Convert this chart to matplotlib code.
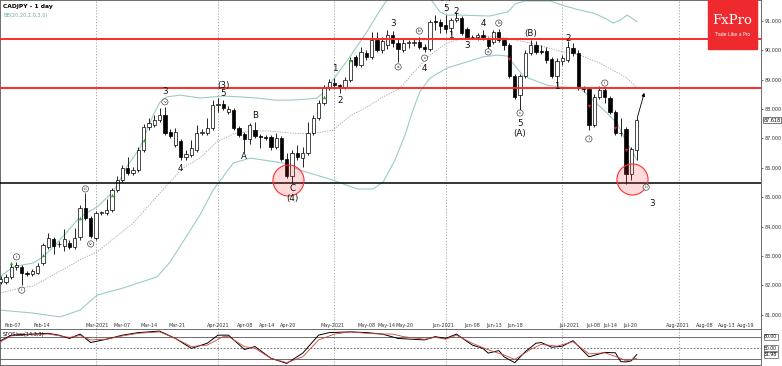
import numpy as np
import matplotlib
matplotlib.use('Agg')
import matplotlib.pyplot as plt

# ---- data (bar index, prices) ----
first_bar = 2
opens = [82.12, 82.12, 82.29, 82.63, 82.63, 82.42, 82.39, 82.42, 82.76, 83.31,
         83.58, 83.42, 83.34, 83.44, 83.31, 83.65, 84.63, 84.29, 83.61, 84.46,
         84.46, 84.56, 85.24, 85.58, 85.99, 85.82, 85.92, 86.60, 87.39, 87.45,
         87.62, 87.79, 87.22, 86.77, 86.91, 86.37, 86.43, 86.60, 87.18, 87.18,
         87.35, 88.13, 88.17, 87.90, 87.96, 87.35, 87.15, 86.98, 87.28, 87.08,
         87.05, 87.05, 86.71, 87.01, 86.30, 85.72, 86.50, 86.33, 86.50, 87.18,
         87.69, 88.20, 88.71, 88.88, 88.81, 88.75, 88.98, 89.77, 89.49, 89.90,
         89.77, 90.34, 90.00, 90.17, 90.51, 90.24, 90.00, 90.24, 90.24, 90.28,
         90.11, 90.04, 90.99, 90.96, 90.85, 90.75, 91.02, 91.09, 90.72, 90.46,
         90.45, 90.51, 90.38, 90.28, 90.62, 90.34, 90.17, 89.12, 88.47, 89.12,
         89.90, 90.17, 89.96, 89.97, 89.70, 89.12, 89.63, 89.66, 90.07, 89.90,
         88.71, 88.68, 87.45, 88.41, 88.64, 88.37, 87.90, 87.18, 87.32, 85.79,
         86.60]
highs = [82.32, 82.39, 82.73, 82.80, 82.69, 82.49, 82.56, 82.76, 83.44, 83.78,
         83.65, 83.51, 83.92, 83.54, 83.95, 84.73, 85.14, 84.36, 84.53, 84.53,
         84.94, 85.31, 85.72, 86.09, 86.37, 86.03, 86.71, 87.49, 87.69, 87.79,
         88.03, 88.07, 87.32, 87.35, 86.98, 86.60, 86.94, 87.45, 87.32, 87.69,
         88.30, 88.37, 88.30, 88.10, 88.03, 87.42, 87.22, 87.52, 87.56, 87.15,
         87.11, 87.11, 87.18, 87.08, 86.50, 86.60, 86.77, 86.71, 87.56, 87.79,
         88.30, 88.81, 89.02, 89.05, 88.85, 89.09, 89.77, 89.83, 90.11, 90.00,
         90.62, 90.62, 90.45, 90.68, 90.65, 90.41, 90.41, 90.34, 90.41, 90.45,
         90.21, 91.02, 91.19, 91.06, 91.21, 91.09, 91.30, 91.16, 90.79, 90.51,
         90.58, 90.68, 90.45, 90.68, 90.72, 90.41, 90.24, 89.19, 89.19, 90.00,
         90.34, 90.31, 90.17, 90.11, 89.77, 89.73, 89.83, 90.31, 90.24, 90.00,
         88.78, 88.75, 88.51, 88.78, 88.75, 88.44, 87.96, 87.69, 87.39, 86.71,
         87.73]
lows = [82.05, 82.05, 82.22, 82.52, 82.01, 82.32, 82.32, 82.39, 82.69, 83.24,
        83.07, 83.31, 83.17, 83.24, 83.24, 83.54, 84.22, 83.61, 83.54, 84.39,
        84.39, 84.50, 85.18, 85.52, 85.75, 85.75, 85.86, 86.54, 87.28, 87.39,
        87.56, 87.11, 87.01, 86.71, 86.26, 86.26, 86.37, 86.54, 87.11, 87.11,
        87.28, 87.90, 87.96, 87.83, 87.28, 87.05, 86.54, 86.81, 87.01, 86.67,
        86.94, 86.60, 86.64, 86.23, 85.65, 85.48, 86.26, 86.02, 86.43, 87.11,
        87.62, 88.13, 88.64, 88.75, 88.54, 88.68, 88.92, 89.43, 89.43, 89.66,
        89.70, 89.94, 89.90, 90.04, 90.11, 89.60, 89.94, 90.07, 90.14, 90.04,
        89.94, 89.97, 90.68, 90.58, 90.58, 90.51, 90.96, 90.51, 90.38, 90.38,
        90.34, 90.34, 90.04, 90.21, 90.28, 90.00, 89.05, 88.34, 87.96, 89.05,
        89.83, 89.87, 89.87, 89.56, 89.05, 88.78, 89.49, 89.60, 89.80, 88.64,
        88.58, 87.28, 87.39, 88.34, 88.20, 87.83, 87.11, 87.08, 85.45, 85.58,
        86.26]
closes = [82.22, 82.29, 82.63, 82.69, 82.42, 82.39, 82.49, 82.66, 83.37, 83.61,
          83.34, 83.40, 83.58, 83.31, 83.61, 84.63, 84.29, 83.68, 84.46, 84.48,
          84.56, 85.24, 85.58, 85.99, 85.82, 85.92, 86.60, 87.39, 87.52, 87.62,
          87.79, 87.18, 87.08, 87.22, 86.37, 86.47, 86.67, 87.18, 87.22, 87.35,
          88.13, 88.16, 88.03, 88.00, 87.35, 87.11, 86.98, 87.45, 87.08, 87.05,
          87.01, 86.71, 87.01, 86.30, 85.72, 86.50, 86.37, 86.50, 87.18, 87.69,
          88.20, 88.71, 88.92, 88.81, 88.78, 88.98, 89.66, 89.49, 89.94, 89.77,
          90.34, 90.00, 90.31, 90.51, 90.24, 90.04, 90.24, 90.26, 90.28, 90.11,
          90.04, 90.96, 90.96, 90.82, 90.72, 91.02, 91.09, 90.58, 90.45, 90.44,
          90.51, 90.45, 90.14, 90.62, 90.34, 90.17, 89.12, 88.41, 89.12, 89.90,
          90.17, 89.94, 89.92, 89.66, 89.12, 89.63, 89.73, 90.11, 89.90, 88.71,
          88.68, 87.45, 88.41, 88.64, 88.41, 87.90, 87.18, 87.17, 85.79, 86.64,
          87.618]

# Bollinger bands (20, 2) read at sample bars
bb_up_x = [1.9, 4.3, 8.1, 10.0, 12.3, 14.5, 17.0, 20.2, 23.0, 24.0, 26.0, 28.3, 29.6,
           30.8, 32.1, 33.4, 35.9, 39.6, 42.1, 44.0, 47.2, 50.4, 53.8, 56.6, 60.4,
           61.7, 62.8, 64.7, 67.9, 71.1, 73.6, 74.9, 77.4, 80.2, 83.0, 84.9, 86.2,
           88.7, 94.3, 97.7, 99.1, 100.9, 105.7, 108.5, 111.3, 113.8, 116.0, 117.6,
           118.9, 120.2, 121.1, 122.1]
bb_up = [82.29, 82.63, 82.76, 82.97, 83.37, 83.82, 84.33, 84.67, 85.14, 85.41, 86.09,
         86.67, 87.28, 87.79, 88.24, 88.41, 88.47, 88.37, 88.41, 88.44, 88.41, 88.37,
         88.30, 88.30, 88.34, 88.37, 88.54, 88.98, 89.77, 90.62, 91.36, 91.70, 91.81,
         91.91, 91.77, 91.30, 91.19, 91.19, 91.16, 91.30, 91.57, 91.67, 91.67, 91.50,
         91.36, 91.26, 91.09, 90.92, 91.02, 91.19, 91.09, 90.96]
bb_mid_x = [1.9, 5.7, 8.1, 11.3, 17.6, 20.2, 27.0, 33.4, 36.4, 39.6, 42.8, 45.9, 49.1,
            52.8, 56.6, 60.4, 64.7, 67.9, 70.8, 74.2, 77.4, 79.8, 83.0, 86.2, 89.3,
            95.7, 101.9, 108.1, 111.3, 115.1, 120.2, 122.1]
bb_mid = [81.74, 81.91, 81.98, 82.29, 82.93, 83.14, 84.12, 85.41, 85.99, 86.33, 86.88,
          87.15, 87.25, 87.25, 87.18, 87.15, 87.28, 87.76, 88.03, 88.41, 88.71, 89.22,
          89.83, 90.24, 90.41, 90.48, 90.24, 89.94, 89.83, 89.56, 89.05, 88.71]
bb_lo_x = [1.9, 8.1, 13.2, 17.0, 20.2, 25.1, 31.5, 34.0, 36.4, 39.6, 42.1, 45.9, 49.1,
           55.3, 58.5, 64.7, 69.3, 72.3, 74.2, 76.4, 78.3, 79.8, 81.1, 83.0, 86.2,
           90.0, 93.0, 95.7, 97.6, 99.1, 100.6, 105.1, 107.6, 111.3, 113.8, 116.4,
           118.3, 120.2, 122.1]
bb_lo = [81.16, 81.06, 80.93, 81.16, 81.67, 81.91, 82.29, 82.80, 83.48, 84.39, 85.24,
         86.16, 86.33, 86.16, 85.92, 85.58, 85.28, 85.28, 85.52, 86.26, 87.11, 87.96,
         88.58, 89.05, 89.39, 89.60, 89.77, 89.83, 89.80, 89.46, 89.12, 88.81, 88.75,
         88.71, 88.30, 87.86, 87.52, 86.84, 86.26]

# slow stochastic read at sample bars
stoch_k_x = [2, 4, 8, 11, 13, 15, 17, 19, 22, 25, 28, 32, 35, 38, 41, 43, 45, 48, 50,
             53, 56, 59, 62, 64, 68, 71, 74, 77, 82, 84, 86, 88, 91, 93, 94, 96, 97,
             99, 101, 103, 104, 106, 108, 110, 113, 116, 118, 119, 120, 121, 122]
stoch_k = [70, 85, 88, 90, 85, 76, 88, 65, 74, 85, 92, 96, 76, 49, 63, 85, 85, 46, 54,
           22, 8, 36, 85, 92, 94, 92, 88, 76, 72, 81, 76, 88, 58, 49, 36, 43, 26,
           10, 40, 63, 65, 52, 55, 70, 26, 38, 37, 13, 12, 15, 31.98]
stoch_d_x = [2, 4, 8, 11, 15, 17, 19, 22, 25, 28, 32, 35, 38, 41, 44, 45, 48, 50, 53,
             56, 59, 62, 65, 68, 71, 74, 76, 78, 82, 84, 86, 88, 91, 94, 97, 99, 102,
             104, 107, 110, 113, 116, 119, 120, 122]
stoch_d = [67, 83, 87, 88, 79, 84, 72, 74, 83, 90, 94, 76, 54, 58, 81, 81, 54, 49, 22,
           10, 26, 72, 88, 94, 90, 88, 88, 81, 74, 79, 74, 85, 63, 45, 31, 19, 46,
           60, 55, 67, 34, 37, 22, 15, 22]

month_bars = [20, 43, 65, 86, 108, 130]
date_pos = [4.3, 9.8, 20.2, 24.9, 30.0, 35.3, 43.0, 48.1, 52.3, 56.2, 64.7, 71.1, 74.9,
            78.3, 85.5, 91.0, 95.1, 99.1, 109.4, 113.8, 117.0, 120.8, 129.8, 134.9,
            139.1, 142.6]
date_labels = ['Feb-07', 'Feb-14', 'Mar-2021', 'Mar-07', 'Mar-14', 'Mar-21', 'Apr-2021',
               'Apr-08', 'Apr-14', 'Apr-20', 'May-2021', 'May-08', 'May-14', 'May-20',
               'Jun-2021', 'Jun-08', 'Jun-13', 'Jun-18', 'Jul-2021', 'Jul-08', 'Jul-14',
               'Jul-20', 'Aug-2021', 'Aug-08', 'Aug-13', 'Aug-19']

red_levels = [90.38, 88.70]
black_level = 85.47
last_price = 87.618

wave_text = ['3', '(3)', '5', '4', 'A', 'B', 'C', '(4)', '1', '2', '3', '4', '(5)', '5',
             '1', '2', '3', '4', '5', '(A)', '(B)', '1', '2', '3']
wave_x = [33, 44, 44, 36, 48, 50, 57, 57, 65, 66, 76, 82, 86, 86, 87, 88, 90, 93, 100,
          100, 102, 107, 109, 124.9]
wave_y = [88.58, 88.81, 88.51, 85.96, 86.37, 87.76, 85.28, 84.94, 89.36, 88.30, 90.92,
          89.39, 91.78, 91.40, 90.51, 91.30, 90.17, 90.92, 87.52, 87.18, 90.58, 88.75,
          90.38, 84.80]
circ_text = ['i', 'ii', 'iii', 'iv', 'v', 'a', 'b', 'c', 'a', 'b', 'c', 'i', 'ii', 'iii']
circ_x = [5, 6, 18, 19, 33, 77, 81, 82, 94, 96, 100, 113, 116, 123.8]
circ_y = [82.97, 81.84, 85.28, 83.41, 88.24, 89.43, 90.65, 89.73, 89.94, 90.92, 87.86,
          86.98, 88.88, 85.34]

up_sig_x = [4, 10, 17, 23, 29, 63, 68]
up_sig_y = [82.76, 83.03, 84.29, 85.07, 86.94, 88.41, 89.66]
dn_sig_x = [98, 113, 118, 120]
dn_sig_y = [89.70, 88.10, 87.35, 86.60]

zone_x = [56.2, 121.1]
zone_y = [85.58, 85.62]

# ---- figure ----
W, H = 782, 366
fig = plt.figure(figsize=(W / 100, H / 100), dpi=100)
ax = fig.add_axes([0, (H - 329) / H, 761 / W, 329 / H])
ax2 = fig.add_axes([0, 1 / H, 761 / W, 36 / H])

bars = np.arange(first_bar, first_bar + len(opens))
o = np.array(opens); h = np.array(highs); l = np.array(lows); c = np.array(closes)
up = c >= o

ax.vlines(bars, l, h, color='black', lw=0.6, zorder=3)
body_lo = np.minimum(o, c)
body_h = np.maximum(np.abs(c - o), 0.015)
ax.bar(bars[up], body_h[up], bottom=body_lo[up], width=0.62, color='white',
       edgecolor='black', lw=0.5, zorder=4)
ax.bar(bars[~up], body_h[~up], bottom=body_lo[~up], width=0.62, color='black',
       edgecolor='black', lw=0.5, zorder=4)

band_col = '#9ccaca'
ax.plot(bb_up_x, bb_up, color=band_col, lw=0.8, zorder=2)
ax.plot(bb_lo_x, bb_lo, color=band_col, lw=0.8, zorder=2)
ax.plot(bb_mid_x, bb_mid, color='#a0a0a0', lw=0.6, ls=(0, (1.5, 1.5)), zorder=2)

for lv in red_levels:
    ax.axhline(lv, color='#ff2a2a', lw=1.4, zorder=5)
ax.axhline(black_level, color='black', lw=1.1, zorder=5)

for mb in month_bars:
    ax.axvline(mb, color='#9a9a9a', lw=0.6, ls=(0, (1.5, 2)), zorder=1)
    ax2.axvline(mb, color='#9a9a9a', lw=0.6, ls=(0, (1.5, 2)), zorder=1)

ax.scatter(zone_x, zone_y, s=500, facecolor=(1, 0.2, 0.2, 0.18),
           edgecolor='#ff3030', lw=0.8, zorder=6)

ax.scatter(up_sig_x, up_sig_y, marker='^', s=6, color='#22aa22', zorder=7, lw=0)
ax.scatter(dn_sig_x, dn_sig_y, marker='v', s=6, color='#dd2222', zorder=7, lw=0)

for t, x, y in zip(wave_text, wave_x, wave_y):
    ax.text(x, y, t, fontsize=6.3, ha='center', va='center', color='#111111', zorder=8)
for t, x, y in zip(circ_text, circ_x, circ_y):
    ax.text(x, y, t, fontsize=3.2, ha='center', va='center', color='#222222', zorder=8,
            bbox=dict(boxstyle='circle,pad=0.25', fc='white', ec='#333333', lw=0.45))

ax.annotate('', xy=(123.6, 88.64), xytext=(bars[-1], closes[-1]),
            arrowprops=dict(arrowstyle='-|>', color='black', lw=0.6,
                            mutation_scale=5), zorder=8)

ax.set_xlim(10 / 5.3, 771 / 5.3)
ax.set_ylim(91.704 - 0.034 * 329, 91.704)
ax.set_xticks([])
ax.yaxis.tick_right()
ax.set_yticks(np.arange(81, 92))
ax.set_yticklabels(['%.3f' % v for v in np.arange(81, 92)])
ax.tick_params(axis='y', labelsize=3.5, length=1.5, width=0.5, pad=1, colors='#333333')
for s in ax.spines.values():
    s.set_linewidth(0.6)
    s.set_color('#555555')
ax.text(1.003, (last_price - ax.get_ylim()[0]) / (ax.get_ylim()[1] - ax.get_ylim()[0]),
        '%.3f' % last_price, transform=ax.transAxes, fontsize=3.5, va='center', ha='left',
        bbox=dict(boxstyle='square,pad=0.12', fc='white', ec='#444444', lw=0.5),
        zorder=9, clip_on=False)

for p, t in zip(date_pos, date_labels):
    ax.text(p, 0.012, t, transform=ax.get_xaxis_transform(), fontsize=3.5,
            ha='center', va='center', color='#333333')

ax.text(0.004, 0.988, 'CADJPY - 1 day', transform=ax.transAxes, fontsize=4.3,
        fontweight='bold', va='top', ha='left')
ax.text(0.005, 0.962, 'BB(20,20,2.0,3.0)', transform=ax.transAxes, fontsize=3.6,
        va='top', ha='left', color='#6aaaaa')

# logo
fig.patches.append(plt.Rectangle((708 / W, 1 - 49 / H), 49 / W, 49 / H,
                                 transform=fig.transFigure, color='#ee2a2e',
                                 zorder=10))
fig.text(732.5 / W, 1 - 21 / H, 'FxPro', color='white', fontsize=9.5,
         family='DejaVu Serif', ha='center', va='center', zorder=11)
fig.text(732.5 / W, 1 - 35 / H, 'Trade Like a Pro', color='white', fontsize=3.3,
         ha='center', va='center', zorder=11)

# stochastic panel
ax2.plot(stoch_k_x, stoch_k, color='black', lw=0.7, zorder=3)
ax2.plot(stoch_d_x, stoch_d, color='#d0453a', lw=0.6, zorder=3)
ax2.axhline(80, color='#555555', lw=0.6)
ax2.axhline(20, color='#555555', lw=0.6)
ax2.axhline(50, color='#555555', lw=0.6, ls=(0, (2, 2)))
ax2.set_xlim(ax.get_xlim())
ax2.set_ylim(80 - 2.725 * (365 - 337), 80 + 2.725 * 8)
ax2.set_xticks([])
ax2.set_yticks([])
for s in ax2.spines.values():
    s.set_linewidth(0.6)
    s.set_color('#555555')
ax2.text(0.004, 0.93, 'STOSlow(14,3,3)', transform=ax2.transAxes, fontsize=3.6,
         va='top', ha='left')
for v, t in [(80, '80.00'), (50, '50.00'), (stoch_k[-1], '%.2f' % stoch_k[-1])]:
    ax2.text(1.004, v, t, transform=ax2.get_yaxis_transform(), fontsize=3.3,
             va='center', ha='left', clip_on=False,
             bbox=dict(boxstyle='square,pad=0.1', fc='white', ec='#444444', lw=0.45))

fig.savefig('out.png', dpi=100)
